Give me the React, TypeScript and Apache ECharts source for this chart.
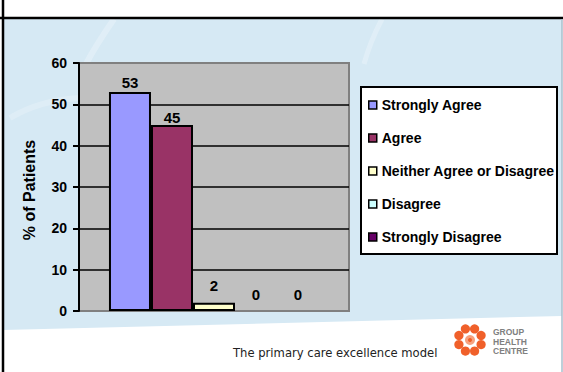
import React, { useEffect, useRef } from "react";
import * as echarts from "echarts";

const categories = [""];
const seriesNames = [
  "Strongly Agree",
  "Agree",
  "Neither Agree or Disagree",
  "Disagree",
  "Strongly Disagree",
];
const seriesValues = [53, 45, 2, 0, 0];
const seriesColors = ["#9999FF", "#993366", "#FFFFCC", "#CCFFFF", "#660066"];
const labelDistances = [2, 0, 10, 9, 9];
const yTicks = { min: 0, max: 60, interval: 10 };
const yTitle = "% of Patients";
const footerText = "The primary care excellence model";
const logoLines = ["GROUP", "HEALTH", "CENTRE"];

const FONT = "'Liberation Sans', Arial, sans-serif";

export default function App() {
  const ref = useRef<HTMLDivElement>(null);

  useEffect(() => {
    if (!ref.current) return;
    const chart = echarts.init(ref.current, null, { renderer: "svg" });

    const logoDots: any[] = [];
    const cx = 470;
    const cy = 340;
    for (let i = 0; i < 8; i++) {
      const a = (i / 8) * Math.PI * 2 + Math.PI / 8;
      logoDots.push({
        type: "circle",
        z: -50,
        shape: { cx: cx + Math.cos(a) * 12, cy: cy + Math.sin(a) * 12, r: 4.6 },
        style: { fill: "#F0602A" },
      });
    }
    logoDots.push({
      type: "circle",
      z: -50,
      shape: { cx, cy, r: 5 },
      style: { fill: "#F7A27E" },
    });
    logoDots.push({
      type: "circle",
      z: -49,
      shape: { cx, cy, r: 2 },
      style: { fill: "#F0602A" },
    });

    chart.setOption({
      animation: false,
      textStyle: { fontFamily: FONT },
      grid: {
        left: 79,
        top: 63,
        width: 270,
        height: 248,
        show: true,
        backgroundColor: "#C0C0C0",
        borderColor: "#808080",
        borderWidth: 2,
        containLabel: false,
      },
      xAxis: {
        type: "category",
        data: categories,
        axisLine: { show: false },
        axisTick: { show: false },
        axisLabel: { show: false },
        splitLine: { show: false },
      },
      yAxis: {
        type: "value",
        min: yTicks.min,
        max: yTicks.max,
        interval: yTicks.interval,
        axisLine: { show: true, lineStyle: { color: "#000", width: 2 } },
        axisTick: { show: true, length: 6, lineStyle: { color: "#000", width: 2 } },
        axisLabel: {
          color: "#000",
          fontWeight: "bold",
          fontSize: 14,
          fontFamily: FONT,
          margin: 12,
        },
        splitLine: {
          show: true,
          lineStyle: {
            color: ["#808080", "#000", "#000", "#000", "#000", "#000", "#808080"],
            width: 1.5,
          },
        },
      },
      legend: {
        orient: "vertical",
        left: 368,
        top: 98,
        padding: 0,
        itemGap: 19,
        itemWidth: 8,
        itemHeight: 8,
        icon: "rect",
        itemStyle: { borderColor: "#000", borderWidth: 1.5 },
        textStyle: {
          color: "#000",
          fontWeight: "bold",
          fontSize: 14,
          fontFamily: FONT,
          lineHeight: 14,
        },
        data: seriesNames,
      },
      series: seriesNames.map((name, i) => ({
        type: "bar",
        name,
        data: [seriesValues[i]],
        barGap: "0%",
        barCategoryGap: "22.2%",
        itemStyle: {
          color: seriesColors[i],
          borderColor: "#000",
          borderWidth: seriesValues[i] === 0 ? 0 : 2,
        },
        label: {
          show: true,
          position: "top",
          distance: labelDistances[i],
          color: "#000",
          fontWeight: "bold",
          fontSize: 15,
          fontFamily: FONT,
        },
      })),
      graphic: [
        {
          type: "rect",
          z: -100,
          shape: { x: 0, y: 0, width: 563, height: 372 },
          style: { fill: "#FFFFFF" },
        },
        {
          type: "polygon",
          z: -99,
          shape: {
            points: [
              [3, 19],
              [562, 19],
              [562, 316],
              [3, 330],
            ],
          },
          style: { fill: "#D6E9F4" },
        },
        {
          type: "bezierCurve",
          z: -98,
          shape: { x1: 86, y1: 64, x2: 114, y2: 19, cpx1: 96, cpy1: 45 },
          style: { stroke: "rgba(255,255,255,0.25)", lineWidth: 6, fill: null },
        },
        {
          type: "bezierCurve",
          z: -98,
          shape: { x1: 364, y1: 64, x2: 382, y2: 19, cpx1: 370, cpy1: 42 },
          style: { stroke: "rgba(255,255,255,0.25)", lineWidth: 5, fill: null },
        },
        {
          type: "bezierCurve",
          z: -98,
          shape: { x1: 10, y1: 118, x2: 80, y2: 98, cpx1: 40, cpy1: 100 },
          style: { stroke: "rgba(255,255,255,0.2)", lineWidth: 6, fill: null },
        },
        {
          type: "line",
          z: -90,
          shape: { x1: 0, y1: 18, x2: 563, y2: 18 },
          style: { stroke: "#000", lineWidth: 2.5 },
        },
        {
          type: "line",
          z: -90,
          shape: { x1: 3, y1: 0, x2: 3, y2: 372 },
          style: { stroke: "#000", lineWidth: 2.5 },
        },
        {
          type: "line",
          z: -90,
          shape: { x1: 562, y1: 19, x2: 562, y2: 372 },
          style: { stroke: "#A9BFCC", lineWidth: 1.5 },
        },
        {
          type: "rect",
          z: 3,
          shape: { x: 361, y: 87, width: 196, height: 167 },
          style: { fill: "#FFFFFF", stroke: "#000", lineWidth: 2 },
        },
        {
          type: "text",
          z: 5,
          x: 29,
          y: 190,
          rotation: Math.PI / 2,
          style: {
            text: yTitle,
            fill: "#000",
            font: `bold 16px ${FONT}`,
            align: "center",
            verticalAlign: "middle",
          },
        },
        {
          type: "text",
          z: 5,
          x: 233,
          y: 353,
          style: {
            text: footerText,
            fill: "#222",
            font: `11.6px 'DejaVu Sans', sans-serif`,
            align: "left",
            verticalAlign: "middle",
          },
        },
        ...logoDots,
        ...logoLines.map((t, i) => ({
          type: "text",
          z: 5,
          x: 493,
          y: 332 + i * 9.5,
          style: {
            text: t,
            fill: "#808080",
            font: `bold 8.5px ${FONT}`,
            align: "left",
            verticalAlign: "middle",
          },
        })),
      ],
    });

    return () => chart.dispose();
  }, []);

  return (
    <div style={{ position: "absolute", left: 0, top: 0, width: 563, height: 372 }}>
      <div ref={ref} style={{ width: 563, height: 372 }} />
    </div>
  );
}
